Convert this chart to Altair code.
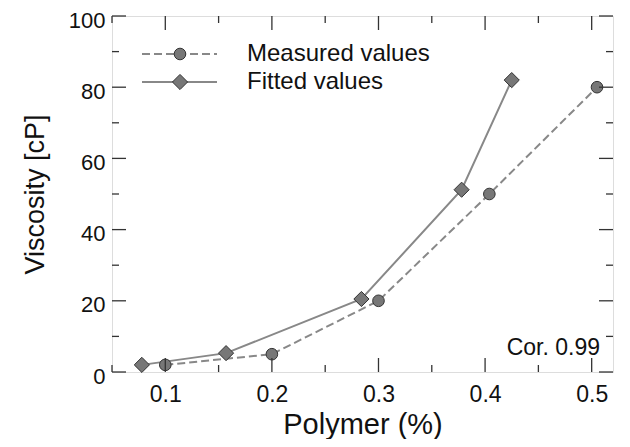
import altair as alt
import pandas as pd

# data
measured_x = [0.1, 0.2, 0.3, 0.404, 0.505]
measured_y = [2, 5, 20, 50, 80]
fitted_x = [0.078, 0.157, 0.284, 0.378, 0.425]
fitted_y = [2, 5.3, 20.5, 51.2, 82]
series_names = ["Measured values", "Fitted values"]
x_major = [0.1, 0.2, 0.3, 0.4, 0.5]
x_minor = [0.05, 0.15, 0.25, 0.35, 0.45]
y_major = [0, 20, 40, 60, 80, 100]
y_minor = [10, 30, 50, 70, 90]
annotation = "Cor. 0.99"

W, H = 501, 356
FONT = "Liberation Sans"
LINE = "#888888"
FILL = "#777777"
EDGE = "#333333"
AX = "#333333"

meas = pd.DataFrame({"x": measured_x, "y": measured_y})
fit = pd.DataFrame({"x": fitted_x, "y": fitted_y})

xs = alt.Scale(domain=[0.05, 0.52], nice=False, zero=False)
ys = alt.Scale(domain=[0, 100], nice=False, zero=True)

xax = alt.Axis(values=x_major, format=".1f", ticks=False, domain=False, grid=False,
               labelFont=FONT, labelFontSize=23, labelColor="#111", labelPadding=11,
               title="Polymer (%)", titleFont=FONT, titleFontSize=29, titleFontWeight="normal",
               titleColor="#111", titlePadding=4)
yax = alt.Axis(values=y_major, ticks=False, domain=False, grid=False,
               labelFont=FONT, labelFontSize=22, labelColor="#111", labelPadding=7, labelOffset=4,
               title="Viscosity [cP]", titleFont=FONT, titleFontSize=27, titleFontWeight="normal",
               titleColor="#111", titlePadding=19)

X = alt.X("x:Q", scale=xs, axis=xax)
Y = alt.Y("y:Q", scale=ys, axis=yax)

meas_line = alt.Chart(meas).mark_line(color=LINE, strokeWidth=2, strokeDash=[8, 4]).encode(x=X, y=Y)
fit_line = alt.Chart(fit).mark_line(color=LINE, strokeWidth=2).encode(x=X, y=Y)
meas_pts = alt.Chart(meas).mark_point(shape="circle", filled=True, fill=FILL, stroke=EDGE,
                                      strokeWidth=1, opacity=1, size=135).encode(x=X, y=Y)
fit_pts = alt.Chart(fit).mark_point(shape="diamond", filled=True, fill=FILL, stroke=EDGE,
                                    strokeWidth=1, opacity=1, size=230).encode(x=X, y=Y)

# inward ticks on all four sides
def xticks(vals, length):
    df = pd.DataFrame({"x": vals})
    b = alt.Chart(df).mark_rule(color=AX, strokeWidth=1.3).encode(
        x=alt.X("x:Q", scale=xs, axis=xax), y=alt.value(H), y2=alt.value(H - length))
    t = alt.Chart(df).mark_rule(color=AX, strokeWidth=1.3).encode(
        x=alt.X("x:Q", scale=xs, axis=xax), y=alt.value(0), y2=alt.value(length))
    return [b, t]

def yticks(vals, length):
    df = pd.DataFrame({"y": vals})
    l = alt.Chart(df).mark_rule(color=AX, strokeWidth=1.3).encode(
        y=alt.Y("y:Q", scale=ys, axis=yax), x=alt.value(0), x2=alt.value(length))
    r = alt.Chart(df).mark_rule(color=AX, strokeWidth=1.3).encode(
        y=alt.Y("y:Q", scale=ys, axis=yax), x=alt.value(W), x2=alt.value(W - length))
    return [l, r]

ticks = xticks(x_major, 14) + xticks(x_minor, 7) + yticks(y_major, 14) + yticks(y_minor, 7)

# manual legend
one = pd.DataFrame({"label": [series_names[0]]})
two = pd.DataFrame({"label": [series_names[1]]})
leg = [
    alt.Chart(one).mark_rule(color=LINE, strokeWidth=2, strokeDash=[8, 4]).encode(
        x=alt.value(30), x2=alt.value(105), y=alt.value(38)),
    alt.Chart(one).mark_point(shape="circle", filled=True, fill=FILL, stroke=EDGE, strokeWidth=1,
                              opacity=1, size=135).encode(x=alt.value(68), y=alt.value(38)),
    alt.Chart(one).mark_text(align="left", baseline="middle", font=FONT, fontSize=24, color="#111").encode(
        x=alt.value(135), y=alt.value(38), text="label:N"),
    alt.Chart(two).mark_rule(color=LINE, strokeWidth=2).encode(
        x=alt.value(30), x2=alt.value(105), y=alt.value(66)),
    alt.Chart(two).mark_point(shape="diamond", filled=True, fill=FILL, stroke=EDGE, strokeWidth=1,
                              opacity=1, size=230).encode(x=alt.value(68), y=alt.value(66)),
    alt.Chart(two).mark_text(align="left", baseline="middle", font=FONT, fontSize=24, color="#111").encode(
        x=alt.value(135), y=alt.value(66), text="label:N"),
]

cor = alt.Chart(pd.DataFrame({"t": [annotation]})).mark_text(
    align="right", baseline="middle", font=FONT, fontSize=23, color="#111").encode(
    x=alt.value(488), y=alt.value(332), text="t:N")

chart = alt.layer(meas_line, fit_line, meas_pts, fit_pts, *ticks, *leg, cor).properties(
    width=W, height=H,
    autosize=alt.AutoSizeParams(type="none"),
    padding={"left": 104, "top": 8, "right": 9, "bottom": 67},
).configure_view(stroke=AX, strokeWidth=1.5).configure(background="white")

chart.save("out.html", embed_options={"renderer": "svg", "actions": False})
